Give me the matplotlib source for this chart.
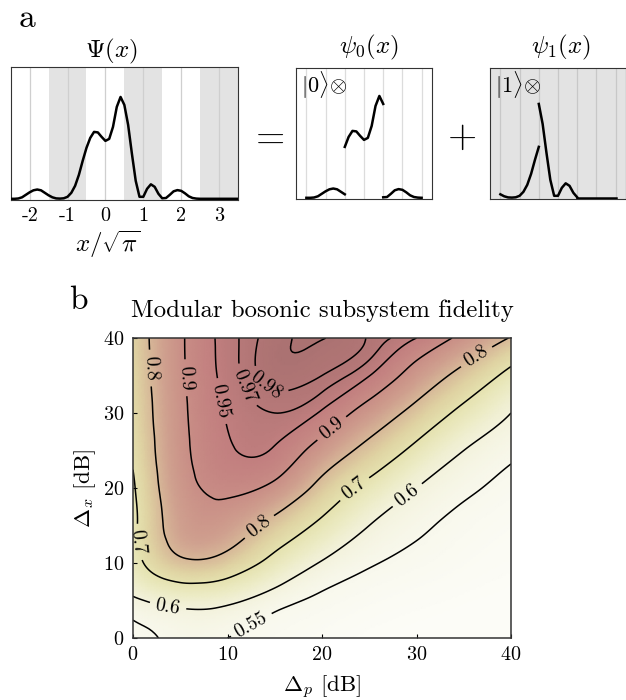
import numpy as np
import matplotlib
matplotlib.use("Agg")
import matplotlib.pyplot as plt
from matplotlib import tri
from matplotlib.colors import LinearSegmentedColormap

plt.rcParams['font.family'] = 'serif'
plt.rcParams['font.serif'] = ['cmr10']
plt.rcParams['mathtext.fontset'] = 'cm'
plt.rcParams['axes.unicode_minus'] = False
plt.rcParams['axes.formatter.use_mathtext'] = True

# ---- panel a: wavefunction (height in px of the box)
x_psi = np.linspace(-2.5, 3.5, 61)
h_psi = [0, 0, 0.3, 1.5, 4, 6.5, 8.5, 9.3, 8.5, 6, 3.5,
         1.5, 0.4, 0.2, 0.5, 2, 6, 13, 24, 38, 51,
         61, 67, 66.5, 62, 58, 60, 72, 92, 102, 94,
         74, 45, 18, 2, 2, 10, 14.5, 12, 5, 0.5,
         0.8, 4, 7.5, 8.7, 8, 5.5, 2.5, 0.8, 0.2, 0,
         0, 0, 0, 0, 0, 0, 0, 0, 0, 0]
h_psi = np.array(h_psi)

psi_ticks = [-2, -1, 0, 1, 2, 3]
psi_ticklabels = ['-2', '-1', '0', '1', '2', '3']
odd_bins = [(-1.5, -0.5), (0.5, 1.5), (2.5, 3.5)]
# bins making up psi_0 and psi_1, with the shift back to the central cell
even_parts = [(-2.5, -1.5, -1), (-0.5, 0.5, 0), (1.5, 2.5, 1)]
odd_parts = [(-1.5, -0.5, 0), (0.5, 1.5, 1), (2.5, 3.5, 2)]
cell_lines = [-1.5, -1, -0.5, 0, 0.5, 1, 1.5]

# ---- panel b: fidelity
dp_db = [0, 5, 10, 15, 20, 25, 30, 35, 40]
dx_db = [0, 5, 10, 15, 20, 25, 30, 35, 40]
fid = [
    [0.530, 0.560, 0.550, 0.530, 0.515, 0.505, 0.500, 0.497, 0.495],
    [0.590, 0.625, 0.615, 0.570, 0.540, 0.522, 0.512, 0.505, 0.500],
    [0.665, 0.780, 0.760, 0.670, 0.595, 0.555, 0.535, 0.520, 0.510],
    [0.680, 0.845, 0.855, 0.770, 0.680, 0.600, 0.560, 0.535, 0.520],
    [0.690, 0.865, 0.915, 0.880, 0.770, 0.674, 0.600, 0.560, 0.535],
    [0.710, 0.878, 0.945, 0.946, 0.865, 0.770, 0.677, 0.600, 0.560],
    [0.725, 0.883, 0.953, 0.970, 0.945, 0.865, 0.770, 0.676, 0.600],
    [0.735, 0.888, 0.960, 0.985, 0.980, 0.951, 0.865, 0.770, 0.675],
    [0.745, 0.890, 0.962, 0.986, 0.9905, 0.979, 0.950, 0.880, 0.795],
]
levels = [0.55, 0.6, 0.7, 0.8, 0.9, 0.95, 0.97, 0.98, 0.99]
label_pos = {
    0.55: [(12.4, 2.0)],
    0.6: [(3.6, 3.4), (29.0, 19.1)],
    0.7: [(0.7, 12.8), (23.3, 20.1)],
    0.8: [(2.0, 36.0), (13.2, 15.1), (36.3, 37.6)],
    0.9: [(5.6, 34.7), (21.0, 28.0)],
    0.95: [(9.0, 31.5)],
    0.97: [(11.6, 33.5)],
    0.98: [(14.8, 34.8)],
}

W, H = 626, 700
fig = plt.figure(figsize=(W / 100, H / 100), dpi=100)


def px_axes(x0, y0, x1, y1):
    return fig.add_axes([x0 / W, 1 - y1 / H, (x1 - x0) / W, (y1 - y0) / H])


frame_col = '#333333'

# Psi(x)
ax0 = px_axes(10.7, 67, 238, 200)
for a, b in odd_bins:
    ax0.axvspan(a, b, color='#e3e3e3', lw=0, zorder=0)
for t in psi_ticks:
    ax0.axvline(t, color='#cfcfcf', lw=0.9, zorder=1)
ax0.plot(x_psi, h_psi, color='k', lw=1.8, zorder=3)
ax0.set_xlim(-2.5, 3.5)
ax0.set_ylim(-1.2, 132)
ax0.set_xticks(psi_ticks)
ax0.set_xticklabels(psi_ticklabels, fontsize=14.5)
ax0.set_yticks([])
ax0.tick_params(axis='x', length=0, pad=5)
for s in ax0.spines.values():
    s.set_color(frame_col)
fig.text(111 / W, 1 - 51 / H, r'$\Psi(x)$', fontsize=18, ha='center', va='center')
fig.text(108 / W, 1 - 244 / H, r'$x/\sqrt{\pi}$', fontsize=18, ha='center', va='center')
fig.text(27 / W, 1 - 18 / H, 'a', fontsize=24, ha='center', va='center')


def part_axes(x0, parts, shaded, ket, title, tx):
    ax = px_axes(x0, 68, x0 + 136, 199)
    if shaded:
        ax.set_facecolor('#e3e3e3')
        lc = '#c8c8c8'
    else:
        lc = '#dcdcdc'
    for u in cell_lines:
        ax.axvline(u, color=lc, lw=0.9, zorder=1)
    for a, b, sh in parts:
        m = (x_psi >= a - 1e-9) & (x_psi <= b + 1e-9)
        ax.plot(x_psi[m] - sh, h_psi[m], color='k', lw=1.8, zorder=3)
    ax.set_xlim(-1.77, 1.77)
    ax.set_ylim(-1.2, 130)
    ax.set_xticks([])
    ax.set_yticks([])
    for s in ax.spines.values():
        s.set_color(frame_col)
    ax.text(0.04, 0.87, ket, transform=ax.transAxes, fontsize=16,
            ha='left', va='center')
    fig.text(tx / W, 1 - 47 / H, title, fontsize=18, ha='center', va='center')
    return ax


part_axes(296, even_parts, False, r'$|0\rangle\!\otimes$', r'$\psi_0(x)$', 369)
part_axes(490, odd_parts, True, r'$|1\rangle\!\otimes$', r'$\psi_1(x)$', 561)
fig.text(267 / W, 1 - 137 / H, r'$=$', fontsize=27, ha='center', va='center')
fig.text(462 / W, 1 - 137 / H, r'$+$', fontsize=27, ha='center', va='center')

# ---- panel b
cmap = LinearSegmentedColormap.from_list('fid', [
    (0.00, '#fcfcf7'), (0.10, '#f8f8ec'), (0.20, '#f3f2dc'),
    (0.30, '#ecebc4'), (0.40, '#e5e2af'), (0.50, '#dfd2a2'),
    (0.60, '#d7b898'), (0.70, '#cf9f8e'), (0.80, '#c98e86'),
    (0.90, '#c27f7f'), (0.96, '#b27676'), (1.00, '#a56f6e')])

axb = px_axes(133, 338, 511, 638)
P, X = np.meshgrid(dp_db, dx_db)
F = np.array(fid)
n = len(dp_db)
# split every cell along the rising diagonal, the way the contours run
cells = []
for j in range(len(dx_db) - 1):
    for i in range(n - 1):
        k = j * n + i
        cells.append([k, k + 1, k + n + 1])
        cells.append([k, k + n + 1, k + n])
tr = tri.Triangulation(P.ravel(), X.ravel(), cells)
interp = tri.CubicTriInterpolator(tr, F.ravel(), kind='min_E')
tr_f, F_f = tri.UniformTriRefiner(tr).refine_field(F.ravel(), triinterpolator=interp, subdiv=4)

axb.tripcolor(tr_f, F_f, shading='gouraud', cmap=cmap, vmin=0.5, vmax=1.0,
              rasterized=True)
for lev in levels:
    cs = axb.tricontour(tr_f, F_f, levels=[lev], colors='k', linewidths=1.1)
    if lev in label_pos:
        axb.clabel(cs, manual=label_pos[lev], inline=True, inline_spacing=6,
                   fontsize=14, fmt=lambda v: f'{v:g}')

axb.set_xlim(0, 40)
axb.set_ylim(0, 40)
axb.set_xticks([0, 10, 20, 30, 40])
axb.set_yticks([0, 10, 20, 30, 40])
axb.tick_params(direction='in', length=3, labelsize=14.5, top=False, right=False, pad=6)
for s in axb.spines.values():
    s.set_color(frame_col)
    s.set_linewidth(1.1)
axb.set_xlabel(r'$\Delta_p$ [dB]', fontsize=16.5, labelpad=7)
axb.set_ylabel(r'$\Delta_x$ [dB]', fontsize=16.5, labelpad=4)
fig.text(322 / W, 1 - 311 / H, 'Modular bosonic subsystem fidelity',
         fontsize=17.8, ha='center', va='center')
fig.text(78 / W, 1 - 300 / H, 'b', fontsize=24, ha='center', va='center')

fig.savefig('out.png', dpi=100)
